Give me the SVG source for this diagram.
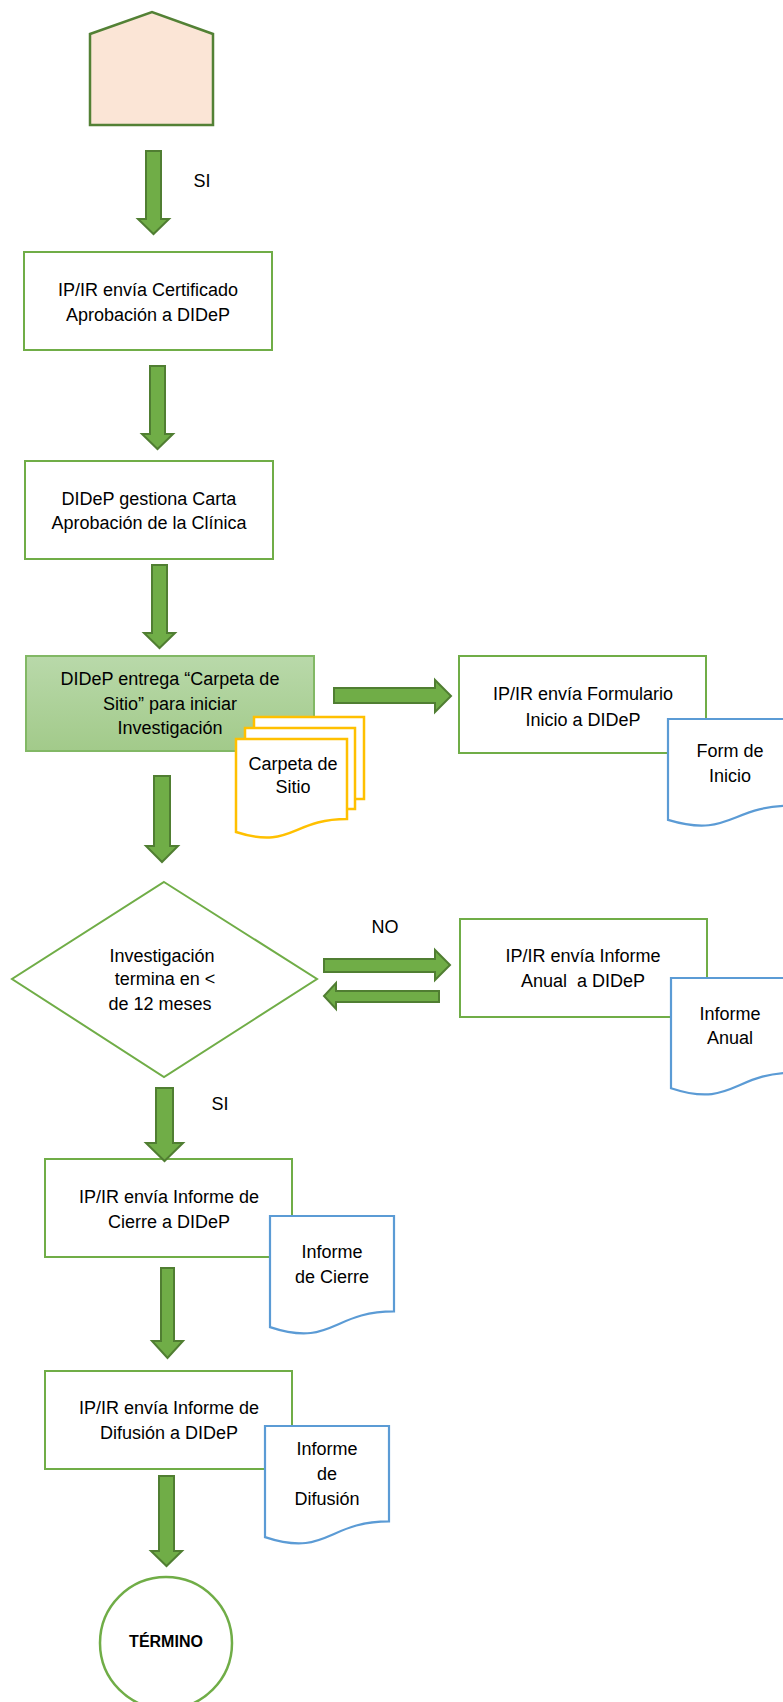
<svg xmlns="http://www.w3.org/2000/svg" width="783" height="1702" viewBox="0 0 783 1702">
<style>
.t{font-family:"Liberation Sans",Arial,sans-serif;font-size:18px;fill:#000;text-anchor:middle}
.b{font-weight:bold;font-size:16px}
.box{fill:#fff;stroke:#70AD47;stroke-width:2}
.arr{fill:#70AD47;stroke:#507E32;stroke-width:2;stroke-linejoin:miter}
.doc{fill:#fff;stroke:#5B9BD5;stroke-width:2.2}
.ydoc{fill:#fff;stroke:#FFC000;stroke-width:2.5}
</style>
<defs>
<linearGradient id="g1" x1="0" y1="0" x2="0" y2="1">
<stop offset="0" stop-color="#B9D9AA"/>
<stop offset="1" stop-color="#A2CA8A"/>
</linearGradient>
</defs>

<g id="start">
<polygon points="90,34 152,12 213,34 213,125 90,125" fill="#FBE5D6" stroke="#538135" stroke-width="2.5"/>
</g>

<g id="n1">
<rect class="box" x="24" y="252" width="248" height="98"/>
<text class="t" x="148" y="296">IP/IR envía Certificado</text>
<text class="t" x="148" y="321">Aprobación a DIDeP</text>
</g>

<g id="n2">
<rect class="box" x="25" y="461" width="248" height="98"/>
<text class="t" x="149" y="505">DIDeP gestiona Carta</text>
<text class="t" x="149" y="529">Aprobación de la Clínica</text>
</g>

<g id="n3">
<rect x="26" y="656" width="288" height="95" fill="url(#g1)" stroke="#82B865" stroke-width="2"/>
<text class="t" x="170" y="685">DIDeP entrega “Carpeta de</text>
<text class="t" x="170" y="710">Sitio” para iniciar</text>
<text class="t" x="170" y="734">Investigación</text>
</g>

<g id="carpeta">
<rect class="ydoc" x="254" y="717" width="110" height="82"/>
<rect class="ydoc" x="245" y="728" width="110" height="81"/>
<path class="ydoc" d="M236,739 H347 V819 C291.5,819 291.5,850 236,832 Z"/>
<text class="t" x="293" y="770">Carpeta de</text>
<text class="t" x="293" y="793">Sitio</text>
</g>

<g id="n4">
<rect class="box" x="459" y="656" width="247" height="97"/>
<text class="t" x="583" y="700">IP/IR envía Formulario</text>
<text class="t" x="583" y="726">Inicio a DIDeP</text>
</g>

<g id="formInicio">
<path class="doc" d="M668,719 H792 V805.6 C730,805.6 730,838.6 668,819.9 Z"/>
<text class="t" x="730" y="757">Form de</text>
<text class="t" x="730" y="782">Inicio</text>
</g>

<g id="decision">
<polygon points="164,882 317,979 164,1077 12,979" fill="#fff" stroke="#70AD47" stroke-width="2"/>
<text class="t" x="162" y="962">Investigación</text>
<text class="t" x="165" y="985">termina en &lt;</text>
<text class="t" x="160" y="1010">de 12 meses</text>
</g>

<g id="n5">
<rect class="box" x="460" y="919" width="247" height="98"/>
<text class="t" x="583" y="962">IP/IR envía Informe</text>
<text class="t" x="583" y="987" xml:space="preserve">Anual  a DIDeP</text>
</g>

<g id="informeAnual">
<path class="doc" d="M671,978 H795 V1072.6 C733,1072.6 733,1108.6 671,1088.2 Z"/>
<text class="t" x="730" y="1020">Informe</text>
<text class="t" x="730" y="1044">Anual</text>
</g>

<g id="n6">
<rect class="box" x="45" y="1159" width="247" height="98"/>
<text class="t" x="169" y="1203">IP/IR envía Informe de</text>
<text class="t" x="169" y="1228">Cierre a DIDeP</text>
</g>

<g id="informeCierre">
<path class="doc" d="M270,1216 H394 V1311.4 C332,1311.4 332,1347.7 270,1327.1 Z"/>
<text class="t" x="332" y="1258">Informe</text>
<text class="t" x="332" y="1283">de Cierre</text>
</g>

<g id="n7">
<rect class="box" x="45" y="1371" width="247" height="98"/>
<text class="t" x="169" y="1414">IP/IR envía Informe de</text>
<text class="t" x="169" y="1439">Difusión a DIDeP</text>
</g>

<g id="informeDifusion">
<path class="doc" d="M265,1426 H389 V1521.4 C327,1521.4 327,1557.7 265,1537.1 Z"/>
<text class="t" x="327" y="1455">Informe</text>
<text class="t" x="327" y="1480">de</text>
<text class="t" x="327" y="1505">Difusión</text>
</g>

<g id="end">
<circle cx="166" cy="1643" r="66" fill="#fff" stroke="#70AD47" stroke-width="2.5"/>
<text class="t b" x="166" y="1647">TÉRMINO</text>
</g>

<g id="connectors">
<polygon class="arr" points="146,151 161,151 161,219 169,219 153.5,234 138,219 146,219"/>
<text class="t" x="202" y="187">SI</text>
<polygon class="arr" points="150,366 165,366 165,434 173,434 157.5,449 142,434 150,434"/>
<polygon class="arr" points="152,565 167,565 167,633 175,633 159.5,648 144,633 152,633"/>
<polygon class="arr" points="334,688 435,688 435,680 451,696 435,712 435,703 334,703"/>
<polygon class="arr" points="154,776 170,776 170,846 178,846 162,862 146,846 154,846"/>
<polygon class="arr" points="324,959 435,959 435,950 450,965 435,980 435,972 324,972"/>
<text class="t" x="385" y="933">NO</text>
<polygon class="arr" points="439,991 439,1002 336,1002 336,1009 324,996 336,983 336,991"/>
<polygon class="arr" points="156,1088 173,1088 173,1143 183,1143 164.5,1161 146,1143 156,1143"/>
<text class="t" x="220" y="1110">SI</text>
<polygon class="arr" points="161,1268 174,1268 174,1341 183,1341 167.5,1358 152,1341 161,1341"/>
<polygon class="arr" points="159,1476 174,1476 174,1551 182,1551 166.5,1566 151,1551 159,1551"/>
</g>
</svg>
